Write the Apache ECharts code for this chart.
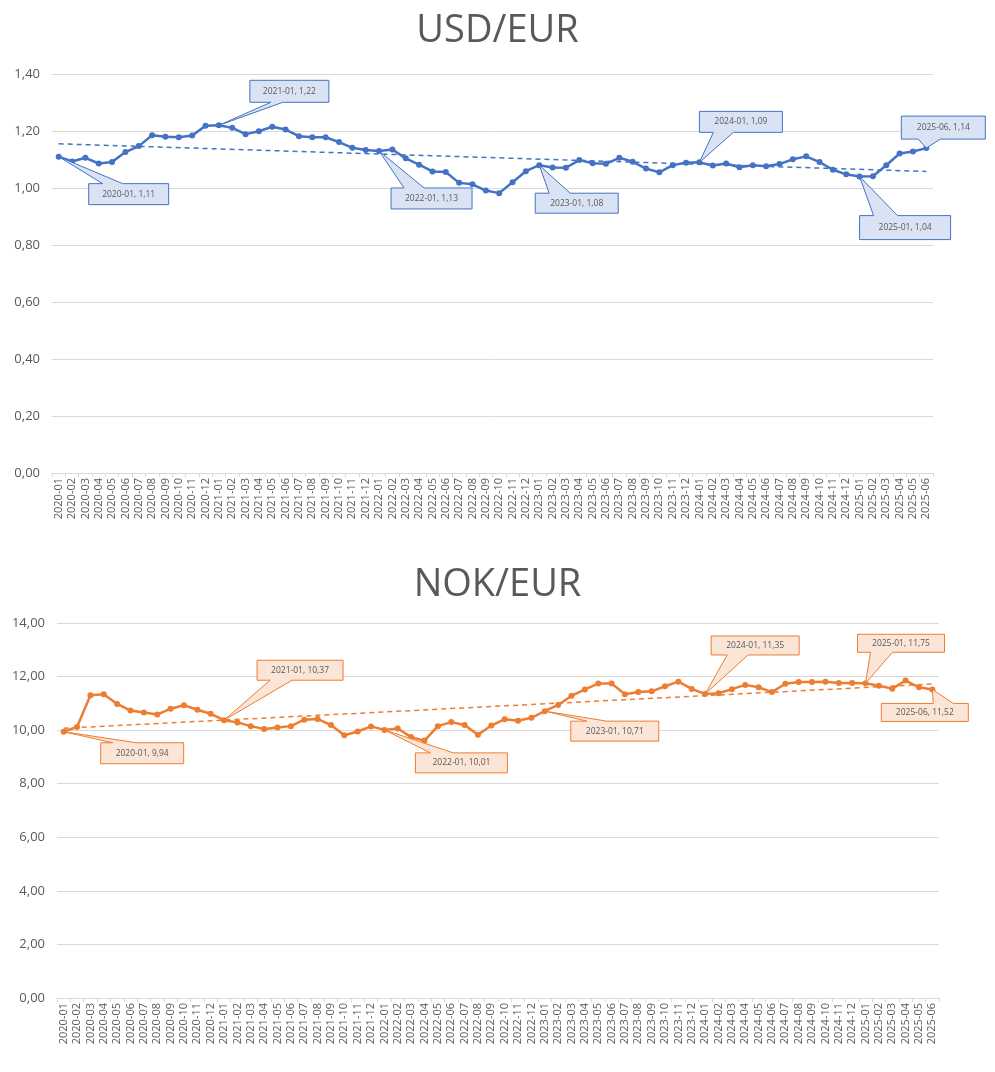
<!DOCTYPE html>
<html>
<head>
<meta charset="utf-8">
<title>USD/EUR og NOK/EUR</title>
<script src="https://cdn.jsdelivr.net/npm/echarts@6/dist/echarts.min.js"></script>
<style>
  html, body { margin: 0; padding: 0; background: #ffffff; }
  #chart { width: 995px; height: 1072px; }
</style>
</head>
<body>
<div id="chart"></div>
<script>
// Monthly categories, 2020-01 .. 2025-06
const months = [
  '2020-01','2020-02','2020-03','2020-04','2020-05','2020-06','2020-07','2020-08','2020-09','2020-10','2020-11','2020-12',
  '2021-01','2021-02','2021-03','2021-04','2021-05','2021-06','2021-07','2021-08','2021-09','2021-10','2021-11','2021-12',
  '2022-01','2022-02','2022-03','2022-04','2022-05','2022-06','2022-07','2022-08','2022-09','2022-10','2022-11','2022-12',
  '2023-01','2023-02','2023-03','2023-04','2023-05','2023-06','2023-07','2023-08','2023-09','2023-10','2023-11','2023-12',
  '2024-01','2024-02','2024-03','2024-04','2024-05','2024-06','2024-07','2024-08','2024-09','2024-10','2024-11','2024-12',
  '2025-01','2025-02','2025-03','2025-04','2025-05','2025-06'
];

// USD per EUR, monthly
const usdEur = [
  1.11, 1.093, 1.106, 1.086, 1.091, 1.126, 1.147, 1.185, 1.180, 1.178, 1.184, 1.218,
  1.22, 1.211, 1.189, 1.199, 1.215, 1.205, 1.182, 1.178, 1.178, 1.161, 1.141, 1.133,
  1.13, 1.135, 1.104, 1.082, 1.058, 1.056, 1.018, 1.013, 0.991, 0.982, 1.020, 1.059,
  1.08, 1.072, 1.071, 1.098, 1.087, 1.085, 1.106, 1.092, 1.068, 1.055, 1.080, 1.089,
  1.09, 1.079, 1.086, 1.073, 1.080, 1.076, 1.084, 1.101, 1.111, 1.091, 1.064, 1.048,
  1.04, 1.041, 1.080, 1.121, 1.128, 1.14
];

// NOK per EUR, monthly
const nokEur = [
  9.94, 10.12, 11.30, 11.34, 10.98, 10.73, 10.66, 10.58, 10.80, 10.93, 10.76, 10.61,
  10.37, 10.29, 10.15, 10.04, 10.10, 10.15, 10.39, 10.42, 10.19, 9.81, 9.95, 10.14,
  10.01, 10.06, 9.74, 9.61, 10.15, 10.30, 10.19, 9.83, 10.17, 10.41, 10.35, 10.46,
  10.71, 10.94, 11.28, 11.52, 11.74, 11.74, 11.34, 11.42, 11.45, 11.64, 11.81, 11.54,
  11.35, 11.38, 11.53, 11.69, 11.60, 11.42, 11.73, 11.80, 11.80, 11.81, 11.76, 11.76,
  11.75, 11.66, 11.55, 11.85, 11.60, 11.52
];

// Linear trend, value at first and last month
const usdTrend = [1.155, 1.058];
const nokTrend = [10.07, 11.72];

// Months that carry a value callout
const calloutMonths = ['2020-01', '2021-01', '2022-01', '2023-01', '2024-01', '2025-01', '2025-06'];

// Y axis ranges
const usdAxis = { min: 0, max: 1.4, step: 0.2 };
const nokAxis = { min: 0, max: 14, step: 2 };

// Callout box placement relative to its point (pixels):
// dx/dy = box top-left offset, w/h = box size, b = pointer base along the edge
const usdCalloutLayout = [
  { dx: 30,  dy: 27,  w: 80, h: 21, b: [14, 34], edge: 'top' },
  { dx: 31,  dy: -45, w: 79, h: 22, b: [21, 33], edge: 'bottom' },
  { dx: 12,  dy: 37,  w: 81, h: 21, b: [13, 33], edge: 'top' },
  { dx: -4,  dy: 28,  w: 83, h: 20, b: [14, 35], edge: 'top' },
  { dx: 0,   dy: -51, w: 83, h: 21, b: [14, 34], edge: 'bottom' },
  { dx: 0,   dy: 39,  w: 91, h: 24, b: [14, 38], edge: 'top' },
  { dx: -25, dy: -32, w: 84, h: 23, b: [17, 39], edge: 'bottom' }
];
const nokCalloutLayout = [
  { dx: 37,  dy: 11,  w: 83, h: 21, b: [12, 36], edge: 'top' },
  { dx: 33,  dy: -60, w: 86, h: 20, b: [13, 35], edge: 'bottom' },
  { dx: 31,  dy: 23,  w: 92, h: 20, b: [15, 38], edge: 'top' },
  { dx: 26,  dy: 10,  w: 88, h: 20, b: [16, 36], edge: 'top' },
  { dx: 6,   dy: -58, w: 88, h: 19, b: [16, 37], edge: 'bottom' },
  { dx: -8,  dy: -49, w: 87, h: 18, b: [13, 35], edge: 'bottom' },
  { dx: -51, dy: 14,  w: 87, h: 18, b: [52, 72], edge: 'top' }
];

const TEXT = '#595959';
const GRID_LINE = '#D9D9D9';
const FONT = '"Open Sans", "Noto Sans", "DejaVu Sans", sans-serif';
const BLUE = '#4472C4', BLUE_FILL = '#DAE3F3';
const ORANGE = '#ED7D31', ORANGE_FILL = '#FBE5D6';

const fmt = v => v.toFixed(2).replace('.', ',');

function calloutData(values) {
  return calloutMonths.map(m => {
    const i = months.indexOf(m);
    return [i, values[i]];
  });
}

// Draws an Excel-style callout: box with a wedge pointing at the data point
function calloutRenderer(layout, stroke, fill) {
  return function (params, api) {
    const L = layout[params.dataIndex];
    const idx = api.value(0);
    const val = api.value(1);
    const p = api.coord([idx, val]);
    const x0 = p[0] + L.dx, y0 = p[1] + L.dy;
    const x1 = x0 + L.w, y1 = y0 + L.h;
    const b1 = x0 + L.b[0], b2 = x0 + L.b[1];
    const pts = L.edge === 'top'
      ? [[x0, y0], [b1, y0], p, [b2, y0], [x1, y0], [x1, y1], [x0, y1]]
      : [[x0, y0], [x1, y0], [x1, y1], [b2, y1], p, [b1, y1], [x0, y1]];
    return {
      type: 'group',
      children: [
        { type: 'polygon', shape: { points: pts },
          style: { fill: fill, stroke: stroke, lineWidth: 1 } },
        { type: 'text',
          style: {
            text: months[idx] + ', ' + fmt(val),
            x: (x0 + x1) / 2, y: (y0 + y1) / 2,
            align: 'center', verticalAlign: 'middle',
            textAlign: 'center', textVerticalAlign: 'middle',
            fill: TEXT, fontSize: 8.5, fontFamily: FONT
          } }
      ]
    };
  };
}

function xAxisFor(gridIndex) {
  return {
    type: 'category', gridIndex: gridIndex, data: months, boundaryGap: true,
    axisLine: { lineStyle: { color: GRID_LINE, width: 1 } },
    axisTick: { show: true, interval: 0, length: 4, lineStyle: { color: GRID_LINE } },
    axisLabel: { interval: 0, rotate: 90, color: TEXT, fontSize: 11, fontFamily: FONT, margin: 5 },
    splitLine: { show: false }
  };
}

function yAxisFor(gridIndex, ax) {
  return {
    type: 'value', gridIndex: gridIndex, min: ax.min, max: ax.max, interval: ax.step,
    axisLine: { show: false }, axisTick: { show: false },
    axisLabel: { color: TEXT, fontSize: 13, fontFamily: FONT, margin: 12, formatter: v => fmt(v) },
    splitLine: { lineStyle: { color: GRID_LINE, width: 1 } }
  };
}

function lineSeries(idx, values, trend, color) {
  const last = months.length - 1;
  return {
    type: 'line', xAxisIndex: idx, yAxisIndex: idx, data: values,
    symbol: 'circle', symbolSize: 6, showSymbol: true,
    itemStyle: { color: color },
    lineStyle: { color: color, width: 2.5 },
    z: 3, animation: false,
    markLine: {
      silent: true, symbol: 'none', animation: false,
      label: { show: false },
      lineStyle: { color: color, type: [5, 4], width: 1.5 },
      data: [[{ coord: [0, trend[0]] }, { coord: [last, trend[1]] }]]
    }
  };
}

const chart = echarts.init(document.getElementById('chart'), null, { renderer: 'canvas' });
chart.setOption({
  backgroundColor: '#ffffff',
  animation: false,
  title: [
    { text: 'USD/EUR', left: 'center', top: 7,
      textStyle: { color: TEXT, fontSize: 38, fontWeight: 'normal', fontFamily: FONT } },
    { text: 'NOK/EUR', left: 'center', top: 561,
      textStyle: { color: TEXT, fontSize: 38, fontWeight: 'normal', fontFamily: FONT } }
  ],
  grid: [
    { left: 52, right: 62, top: 74, height: 399, containLabel: false },
    { left: 57, right: 56, top: 623, height: 375, containLabel: false }
  ],
  xAxis: [xAxisFor(0), xAxisFor(1)],
  yAxis: [yAxisFor(0, usdAxis), yAxisFor(1, nokAxis)],
  series: [
    lineSeries(0, usdEur, usdTrend, BLUE),
    lineSeries(1, nokEur, nokTrend, ORANGE),
    { type: 'custom', xAxisIndex: 0, yAxisIndex: 0, clip: false, z: 5, silent: true,
      data: calloutData(usdEur), renderItem: calloutRenderer(usdCalloutLayout, BLUE, BLUE_FILL) },
    { type: 'custom', xAxisIndex: 1, yAxisIndex: 1, clip: false, z: 5, silent: true,
      data: calloutData(nokEur), renderItem: calloutRenderer(nokCalloutLayout, ORANGE, ORANGE_FILL) }
  ]
});
</script>
</body>
</html>
